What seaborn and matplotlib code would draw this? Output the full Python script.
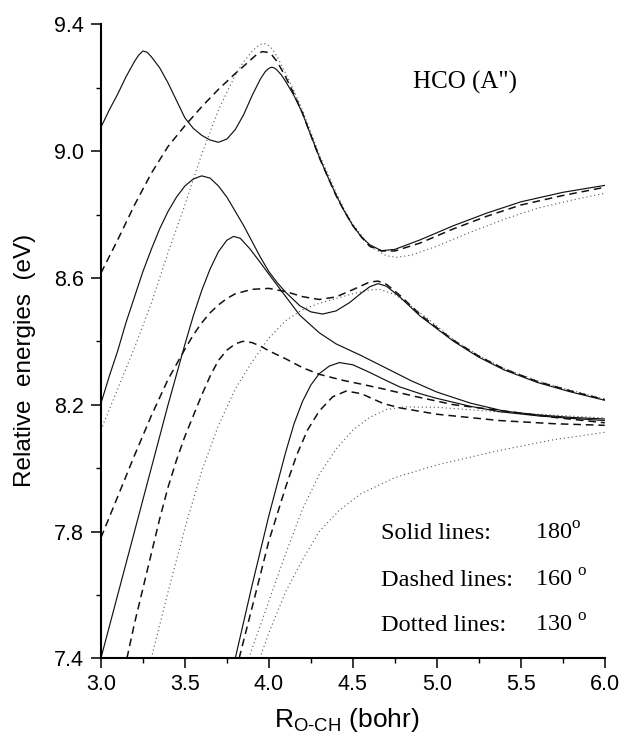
import numpy as np
import pandas as pd
import matplotlib
matplotlib.use("Agg")
import matplotlib.pyplot as plt
from matplotlib.ticker import MultipleLocator
import seaborn as sns

# ---------------- data ----------------
# Solid lines: 180 deg
s1_x = [3.0, 3.05, 3.1, 3.15, 3.2, 3.225, 3.25, 3.275, 3.3, 3.35, 3.4, 3.45, 3.5, 3.55, 3.6, 3.65, 3.7, 3.75, 3.8, 3.85, 3.9, 3.95, 3.98, 4.0, 4.016, 4.035, 4.05, 4.075, 4.1, 4.15, 4.2, 4.25, 4.3, 4.35, 4.4, 4.45, 4.5, 4.55, 4.6, 4.67, 4.75, 4.9, 5.1, 5.3, 5.5, 5.75, 6.0]
s1_y = [9.075, 9.13, 9.18, 9.235, 9.283, 9.303, 9.316, 9.312, 9.298, 9.263, 9.215, 9.16, 9.105, 9.072, 9.05, 9.035, 9.028, 9.038, 9.068, 9.115, 9.175, 9.228, 9.252, 9.261, 9.265, 9.262, 9.255, 9.24, 9.22, 9.175, 9.12, 9.05, 8.982, 8.92, 8.862, 8.81, 8.765, 8.73, 8.705, 8.686, 8.69, 8.72, 8.765, 8.805, 8.84, 8.87, 8.892]

s2_x = [3.0, 3.05, 3.1, 3.15, 3.2, 3.25, 3.3, 3.35, 3.4, 3.45, 3.5, 3.55, 3.6, 3.65, 3.7, 3.75, 3.8, 3.85, 3.9, 3.95, 4.0, 4.05, 4.1, 4.185, 4.25, 4.32, 4.4, 4.48, 4.55, 4.6, 4.65, 4.7, 4.78, 4.9, 5.0, 5.1, 5.25, 5.4, 5.6, 5.8, 6.0]
s2_y = [8.204, 8.29, 8.37, 8.46, 8.54, 8.62, 8.69, 8.755, 8.81, 8.855, 8.89, 8.912, 8.922, 8.915, 8.89, 8.855, 8.81, 8.765, 8.715, 8.665, 8.62, 8.585, 8.555, 8.512, 8.493, 8.486, 8.496, 8.522, 8.552, 8.572, 8.582, 8.574, 8.54, 8.48, 8.44, 8.40, 8.35, 8.31, 8.27, 8.24, 8.214]

s3_x = [3.0, 3.1, 3.2, 3.3, 3.4, 3.5, 3.55, 3.6, 3.65, 3.7, 3.75, 3.79, 3.83, 3.887, 3.95, 4.0, 4.085, 4.185, 4.3, 4.4, 4.55, 4.7, 4.85, 5.0, 5.2, 5.4, 5.6, 5.8, 6.0]
s3_y = [7.40, 7.60, 7.80, 8.00, 8.20, 8.39, 8.48, 8.56, 8.628, 8.683, 8.719, 8.731, 8.725, 8.692, 8.648, 8.612, 8.552, 8.482, 8.427, 8.392, 8.355, 8.315, 8.275, 8.24, 8.205, 8.18, 8.168, 8.16, 8.155]

s4_x = [3.8, 3.9, 4.0, 4.1, 4.15, 4.2, 4.25, 4.3, 4.36, 4.42, 4.5, 4.6, 4.7, 4.78, 4.9, 5.0, 5.2, 5.375, 5.6, 5.8, 6.0]
s4_y = [7.40, 7.63, 7.85, 8.05, 8.14, 8.21, 8.262, 8.298, 8.322, 8.333, 8.326, 8.302, 8.276, 8.256, 8.235, 8.22, 8.195, 8.178, 8.165, 8.157, 8.15]

# Dashed lines: 160 deg
d1_x = [3.0, 3.1, 3.2, 3.3, 3.4, 3.5, 3.6, 3.7, 3.8, 3.85, 3.9, 3.93, 3.96, 3.99, 4.02, 4.05, 4.1, 4.15, 4.2, 4.25, 4.3, 4.35, 4.4, 4.45, 4.5, 4.55, 4.6, 4.67, 4.75, 4.9, 5.1, 5.3, 5.5, 5.75, 6.0]
d1_y = [8.615, 8.72, 8.83, 8.93, 9.015, 9.08, 9.14, 9.195, 9.245, 9.268, 9.292, 9.306, 9.314, 9.312, 9.302, 9.282, 9.234, 9.18, 9.12, 9.05, 8.98, 8.92, 8.86, 8.81, 8.765, 8.73, 8.70, 8.685, 8.685, 8.71, 8.755, 8.795, 8.83, 8.86, 8.886]

d2_x = [3.0, 3.1, 3.2, 3.3, 3.4, 3.5, 3.55, 3.6, 3.65, 3.7, 3.75, 3.8, 3.9, 4.0, 4.1, 4.2, 4.3, 4.4, 4.5, 4.6, 4.65, 4.7, 4.78, 4.9, 5.0, 5.1, 5.25, 5.4, 5.6, 5.8, 6.0]
d2_y = [7.78, 7.91, 8.04, 8.165, 8.28, 8.375, 8.42, 8.458, 8.49, 8.515, 8.535, 8.55, 8.564, 8.567, 8.557, 8.541, 8.532, 8.54, 8.563, 8.587, 8.59, 8.58, 8.545, 8.485, 8.443, 8.403, 8.353, 8.313, 8.273, 8.243, 8.216]

d3_x = [3.155, 3.2, 3.25, 3.3, 3.35, 3.4, 3.45, 3.5, 3.55, 3.6, 3.65, 3.7, 3.75, 3.8, 3.845, 3.9, 3.95, 4.0, 4.1, 4.2, 4.3, 4.44, 4.55, 4.68, 4.88, 5.1, 5.375, 5.7, 6.0]
d3_y = [7.40, 7.51, 7.62, 7.73, 7.84, 7.94, 8.025, 8.10, 8.165, 8.23, 8.29, 8.34, 8.372, 8.392, 8.40, 8.396, 8.385, 8.37, 8.345, 8.317, 8.296, 8.277, 8.265, 8.25, 8.225, 8.20, 8.182, 8.16, 8.143]

d4_x = [3.823, 3.9, 4.0, 4.1, 4.165, 4.23, 4.3, 4.38, 4.46, 4.55, 4.68, 4.78, 5.0, 5.375, 5.7, 6.0]
d4_y = [7.40, 7.56, 7.77, 7.94, 8.04, 8.12, 8.18, 8.225, 8.243, 8.235, 8.204, 8.19, 8.17, 8.15, 8.14, 8.135]

# Dotted lines: 130 deg
t1_x = [3.0, 3.1, 3.2, 3.3, 3.4, 3.5, 3.6, 3.7, 3.8, 3.85, 3.9, 3.94, 3.965, 3.99, 4.02, 4.05, 4.1, 4.15, 4.2, 4.25, 4.3, 4.35, 4.4, 4.45, 4.5, 4.6, 4.7, 4.76, 4.85, 5.0, 5.18, 5.4, 5.6, 5.8, 6.0]
t1_y = [8.12, 8.25, 8.38, 8.52, 8.68, 8.83, 8.99, 9.13, 9.24, 9.282, 9.315, 9.334, 9.34, 9.337, 9.322, 9.298, 9.245, 9.19, 9.13, 9.06, 8.99, 8.93, 8.87, 8.815, 8.77, 8.70, 8.67, 8.665, 8.672, 8.70, 8.74, 8.785, 8.82, 8.845, 8.867]

t2_x = [3.3, 3.4, 3.5, 3.6, 3.7, 3.8, 3.9, 4.0, 4.1, 4.2, 4.3, 4.4, 4.5, 4.6, 4.66, 4.75, 4.85, 4.95, 5.1, 5.25, 5.4, 5.6, 5.8, 6.0]
t2_y = [7.40, 7.61, 7.81, 7.99, 8.135, 8.25, 8.335, 8.41, 8.465, 8.50, 8.52, 8.535, 8.55, 8.562, 8.564, 8.548, 8.51, 8.47, 8.405, 8.355, 8.315, 8.275, 8.245, 8.218]

t3_x = [3.88, 4.0, 4.1, 4.2, 4.3, 4.4, 4.5, 4.6, 4.7, 4.8, 5.0, 5.4, 6.0]
t3_y = [7.40, 7.58, 7.73, 7.87, 7.98, 8.06, 8.12, 8.16, 8.185, 8.193, 8.192, 8.176, 8.158]

t4_x = [3.946, 4.0, 4.1, 4.2, 4.3, 4.42, 4.55, 4.75, 5.0, 5.375, 5.7, 6.0]
t4_y = [7.40, 7.48, 7.61, 7.71, 7.80, 7.867, 7.92, 7.97, 8.01, 8.056, 8.09, 8.113]

x_ticks = [3.0, 3.5, 4.0, 4.5, 5.0, 5.5, 6.0]
y_ticks = [7.4, 7.8, 8.2, 8.6, 9.0, 9.4]

curves = [
    ("s1", "180", s1_x, s1_y), ("s2", "180", s2_x, s2_y),
    ("s3", "180", s3_x, s3_y), ("s4", "180", s4_x, s4_y),
    ("d1", "160", d1_x, d1_y), ("d2", "160", d2_x, d2_y),
    ("d3", "160", d3_x, d3_y), ("d4", "160", d4_x, d4_y),
    ("t1", "130", t1_x, t1_y), ("t2", "130", t2_x, t2_y),
    ("t3", "130", t3_x, t3_y), ("t4", "130", t4_x, t4_y),
]
rows = []
for name, ang, xs, ys in curves:
    for i, (xv, yv) in enumerate(zip(xs, ys)):
        rows.append({"curve": name, "angle": ang, "order": i, "R": xv, "E": yv})
df = pd.DataFrame(rows)

# ---------------- plotting ----------------
sns.set_theme(style="ticks")
plt.rcParams["font.family"] = ["Liberation Sans", "DejaVu Sans"]
plt.rcParams["mathtext.fontset"] = "custom"
plt.rcParams["mathtext.rm"] = "Liberation Sans"
plt.rcParams["mathtext.sf"] = "Liberation Serif"

fig = plt.figure(figsize=(6.19, 7.38), dpi=100)
ax = fig.add_axes([0.163, 0.108, 0.814, 0.859])

styles = {
    "180": dict(lw=0.85, color="#111111", dashes=None),
    "160": dict(lw=1.1, color="#111111", dashes=(5, 3.2)),
    "130": dict(lw=0.8, color="#555555", dashes=(1, 2.6)),
}
for ang in ["130", "160", "180"]:
    st = styles[ang]
    n0 = len(ax.lines)
    sns.lineplot(data=df[df["angle"] == ang], x="R", y="E", units="curve",
                 estimator=None, sort=False, color=st["color"], lw=st["lw"],
                 ax=ax, legend=False)
    for ln in ax.lines[n0:]:
        ln.set_solid_joinstyle("round")
        if st["dashes"] is not None:
            ln.set_dashes(st["dashes"])

ax.set_xlim(3.0, 6.0)
ax.set_ylim(7.4, 9.4)
ax.set_xticks(x_ticks)
ax.set_yticks(y_ticks)
ax.set_xticklabels([f"{v:.1f}" for v in x_ticks])
ax.set_yticklabels([f"{v:.1f}" for v in y_ticks])
ax.xaxis.set_minor_locator(MultipleLocator(0.25))
ax.yaxis.set_minor_locator(MultipleLocator(0.2))
ax.tick_params(which="major", direction="out", length=7.5, width=1.1,
               labelsize=15.5, color="black", labelcolor="black")
ax.tick_params(axis="y", which="major", pad=5)
ax.tick_params(axis="x", which="major", pad=4)
ax.tick_params(which="minor", direction="out", length=3.8, width=1.0, color="black")
for side in ["top", "right"]:
    ax.spines[side].set_visible(False)
for side in ["left", "bottom"]:
    ax.spines[side].set_linewidth(1.5)
    ax.spines[side].set_color("black")
ax.set_facecolor("white")

ax.set_xlabel(r"R$_{\text{O-CH}}$ (bohr)", fontsize=19, labelpad=7, color="black")
ax.xaxis.set_label_coords(0.488, -0.075)
ax.set_ylabel("Relative  energies  (eV)", fontsize=17.5, color="black")
ax.yaxis.set_label_coords(-0.128, 0.47)

serif = ["Liberation Serif", "DejaVu Serif"]
ax.text(0.722, 0.908, 'HCO (A")', transform=ax.transAxes, ha="center", va="center",
        fontsize=18, family=serif, color="black")
labels = ["Solid lines:", "Dashed lines:", "Dotted lines:"]
nums = [r"180$^{\mathsf{o}}$", r"160 $^{\mathsf{o}}$", r"130 $^{\mathsf{o}}$"]
ys_txt = [0.197, 0.123, 0.052]
for lab, num, yy in zip(labels, nums, ys_txt):
    ax.text(0.556, yy, lab, transform=ax.transAxes, ha="left", va="center",
            fontsize=17.5, family=serif, color="black")
    ax.text(0.862, yy, num, transform=ax.transAxes, ha="left", va="center",
            fontsize=17.5, family=serif, color="black")

fig.savefig("out.png", dpi=100, facecolor="white")
